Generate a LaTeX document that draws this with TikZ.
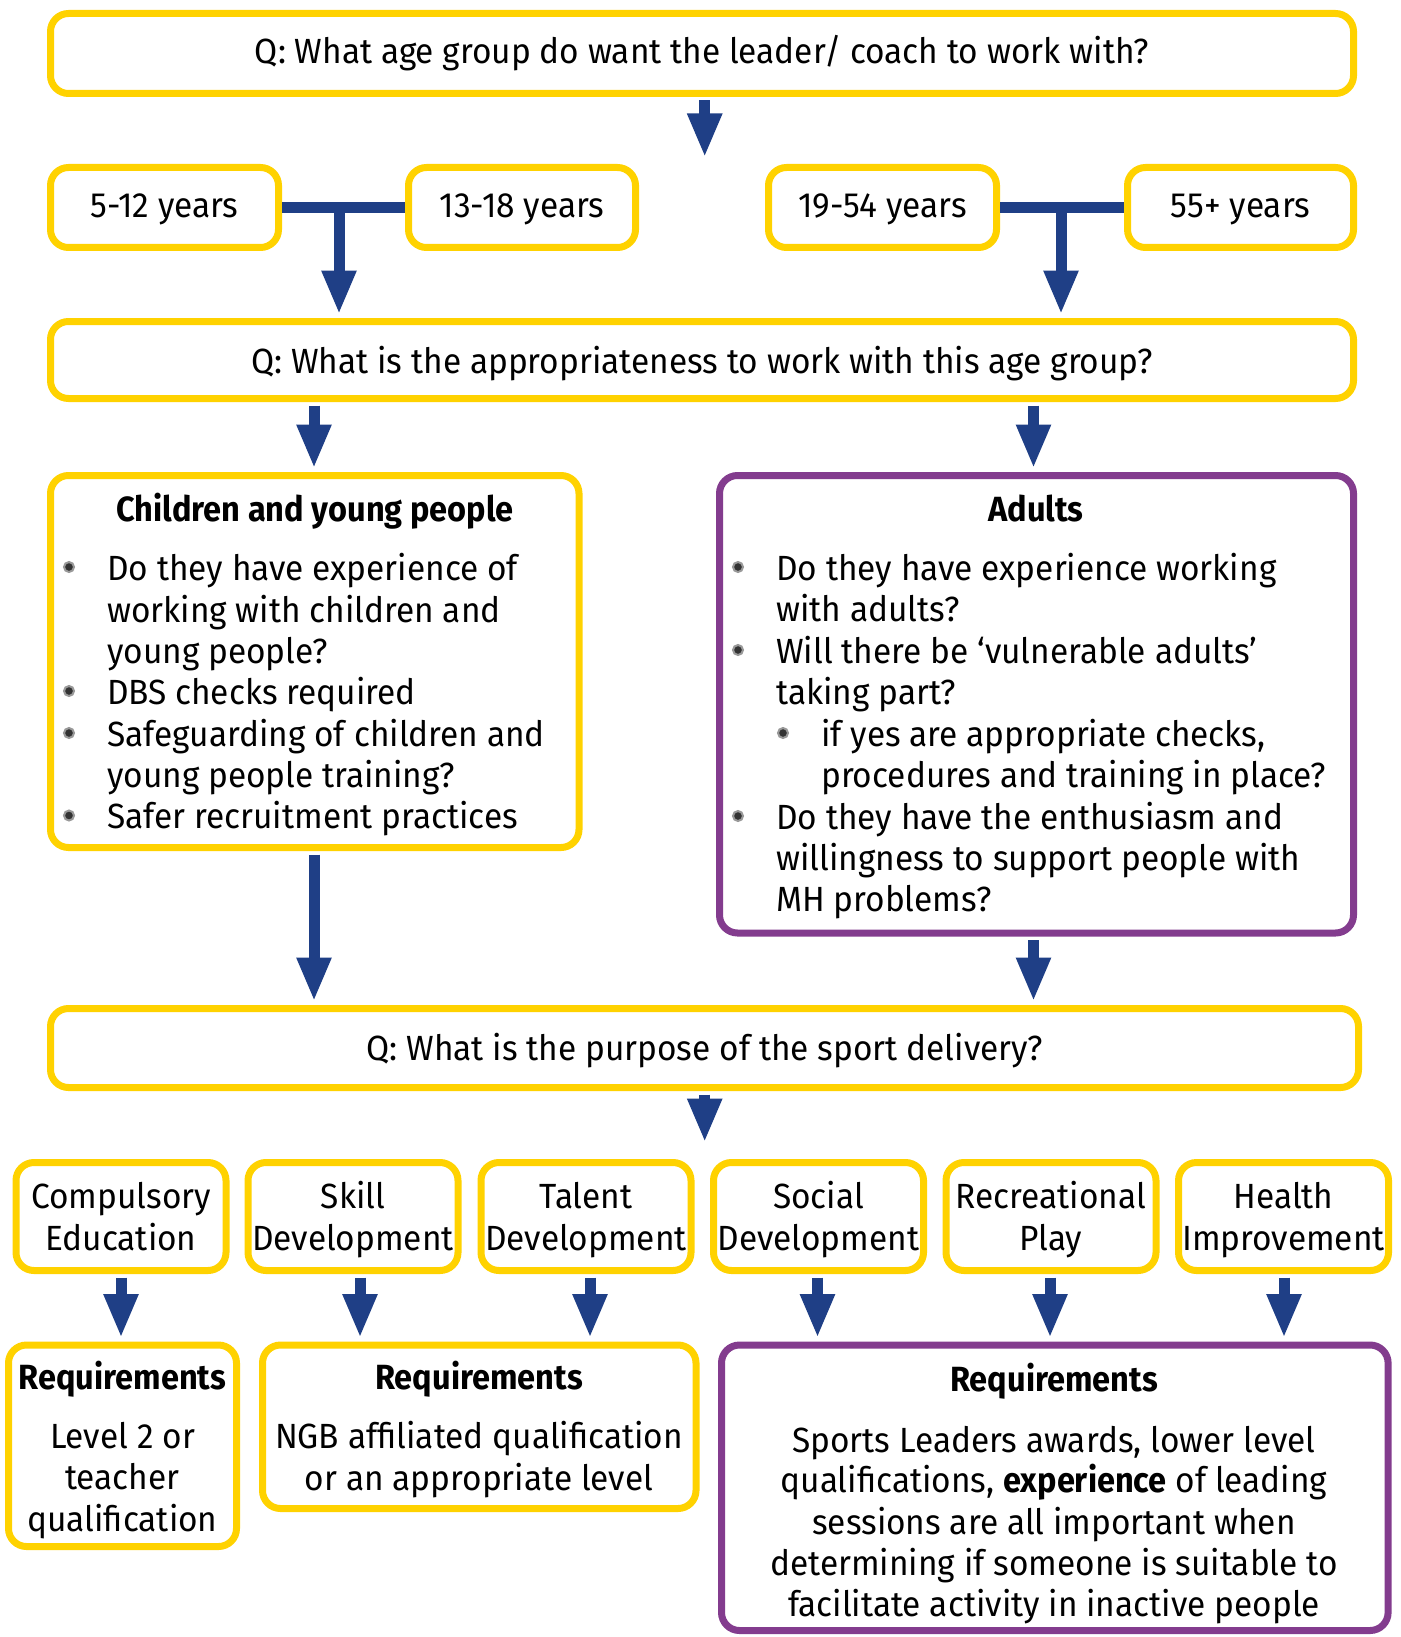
\documentclass[tikz,border=0pt]{standalone}
\usepackage{fontspec}
\setmainfont[UprightFeatures={FakeStretch=0.955}, BoldFeatures={FakeStretch=0.93}]{Fira Sans}
\usetikzlibrary{arrows.meta}
\definecolor{yel}{HTML}{FFD200}
\definecolor{pur}{HTML}{833C8E}
\definecolor{blu}{HTML}{1F3F86}
\tikzset{
  box/.style={draw=yel, line width=7pt, rounded corners=18pt, fill=white, inner sep=0pt},
  pbox/.style={box, draw=pur},
  txt/.style={font=\fontsize{35}{41}\selectfont, inner sep=0pt, anchor=base},
  ltxt/.style={txt, anchor=base west},
  btxt/.style={txt, font=\fontsize{35}{41}\selectfont\bfseries},
  bul/.style={circle, draw=black!40, fill=black!80, line width=2pt, minimum size=10pt, inner sep=0pt},
  arr/.style={draw=blu, line width=11pt, -{Triangle[width=32pt,length=44pt]}, shorten >=3.5pt, shorten <=3.5pt},
  bar/.style={draw=blu, line width=11pt}
}
\begin{document}
\begin{tikzpicture}[x=1pt,y=-1pt]
\useasboundingbox (0,0) rectangle (1400,1637);
% boxes
\node[box, minimum width=1303pt, minimum height=80pt] (top) at (702,53.5) {};
\node[box, minimum width=228pt, minimum height=80pt] (a1) at (164.5,207.5) {};
\node[box, minimum width=227pt, minimum height=80pt] (a2) at (522,207.5) {};
\node[box, minimum width=228pt, minimum height=80pt] (a3) at (882.5,207.5) {};
\node[box, minimum width=226pt, minimum height=80pt] (a4) at (1240.5,207.5) {};
\node[box, minimum width=1303pt, minimum height=77pt] (q2) at (702,360) {};
\node[box, minimum width=528.5pt, minimum height=372pt] (ch) at (314.75,661.5) {};
\node[pbox, minimum width=634pt, minimum height=457.5pt] (ad) at (1036.5,704.25) {};
\node[box, minimum width=1308pt, minimum height=79pt] (pu) at (704.5,1048) {};
\node[box, minimum width=210pt, minimum height=108pt] (p1) at (121,1216.5) {};
\node[box, minimum width=210pt, minimum height=108pt] (p2) at (353,1216.5) {};
\node[box, minimum width=210pt, minimum height=108pt] (p3) at (586,1216.5) {};
\node[box, minimum width=210pt, minimum height=108pt] (p4) at (818.5,1216.5) {};
\node[box, minimum width=210pt, minimum height=108pt] (p5) at (1051,1216.5) {};
\node[box, minimum width=210pt, minimum height=108pt] (p6) at (1283.5,1216.5) {};
\node[box, minimum width=228pt, minimum height=201.5pt] (r1) at (122.5,1445.75) {};
\node[box, minimum width=433.5pt, minimum height=163.5pt] (r2) at (479.25,1426.75) {};
\node[pbox, minimum width=666.6pt, minimum height=285.5pt] (r3) at (1054.8,1487.75) {};
% connectors
\coordinate (t1) at (704.7,161);
\draw[arr] (top.south -| t1) -- (t1);
\coordinate (j1) at (339,207.5);
\coordinate (j2) at (1061,207.5);
\draw[bar] (a1.east) -- (a2.west);
\draw[bar] (a3.east) -- (a4.west);
\draw[arr, shorten <=0pt] (j1) -- (j1 |- q2.north);
\draw[arr, shorten <=0pt] (j2) -- (j2 |- q2.north);
\coordinate (k1) at (314,0);
\coordinate (k2) at (1033.5,0);
\draw[arr] (q2.south -| k1) -- (ch.north -| k1);
\draw[arr] (q2.south -| k2) -- (ad.north -| k2);
\draw[arr] (ch.south -| k1) -- (pu.north -| k1);
\draw[arr] (ad.south -| k2) -- (pu.north -| k2);
\coordinate (t2) at (704.7,1146);
\draw[arr] (pu.south -| t2) -- (t2);
\coordinate (m1) at (121,0);
\coordinate (m2) at (360,0);
\coordinate (m3) at (590,0);
\coordinate (m4) at (817.5,0);
\coordinate (m5) at (1050,0);
\coordinate (m6) at (1284,0);
\draw[arr] (p1.south -| m1) -- (r1.north -| m1);
\draw[arr] (p2.south -| m2) -- (r2.north -| m2);
\draw[arr] (p3.south -| m3) -- (r2.north -| m3);
\draw[arr] (p4.south -| m4) -- (r3.north -| m4);
\draw[arr] (p5.south -| m5) -- (r3.north -| m5);
\draw[arr] (p6.south -| m6) -- (r3.north -| m6);
% texts
\node[txt] (tt) at (702,64) {Q: What age group do want the leader/ coach to work with?};
\node[txt] (at1) at (164.5,218) {5-12 years};
\node[txt] (at2) at (522,218) {13-18 years};
\node[txt] (at3) at (882.5,218) {19-54 years};
\node[txt] (at4) at (1240.5,218) {55+ years};
\node[txt] (qt2) at (702,373) {Q: What is the appropriateness to work with this age group?};
% children
\node[btxt] (cht) at (315,521.5) {Children and young people};
\node[bul] (cb1) at (69,567) {};
\node[bul] (cb2) at (69,691) {};
\node[bul] (cb3) at (69,733) {};
\node[bul] (cb4) at (69,815.5) {};
\node[ltxt] (c1) at (107,580) {Do they have experience of};
\node[ltxt] (c2) at (107,622) {working with children and};
\node[ltxt] (c3) at (107,663.5) {young people?};
\node[ltxt] (c4) at (107,704) {DBS checks required};
\node[ltxt] (c5) at (107,746) {Safeguarding of children and};
\node[ltxt] (c6) at (107,787) {young people training?};
\node[ltxt] (c7) at (107,828.5) {Safer recruitment practices};
% adults
\node[btxt] (adt) at (1036,521.5) {Adults};
\node[bul] (ab1) at (738,567) {};
\node[bul] (ab2) at (738,650) {};
\node[bul] (ab3) at (783,733) {};
\node[bul] (ab4) at (738,816) {};
\node[ltxt] (d1) at (776,580) {Do they have experience working};
\node[ltxt] (d2) at (776,621.5) {with adults?};
\node[ltxt] (d3) at (776,663) {Will there be ‘vulnerable adults’};
\node[ltxt] (d4) at (776,704) {taking part?};
\node[ltxt] (d5) at (821,746) {if yes are appropriate checks,};
\node[ltxt] (d6) at (821,787) {procedures and training in place?};
\node[ltxt] (d7) at (776,829) {Do they have the enthusiasm and};
\node[ltxt] (d8) at (776,870) {willingness to support people with};
\node[ltxt] (d9) at (776,911) {MH problems?};
% purpose
\node[txt] (put) at (704.5,1060) {Q: What is the purpose of the sport delivery?};
\node[txt] (p1a) at (121,1208.5) {Compulsory};
\node[txt] (p1b) at (121,1250) {Education};
\node[txt] (p2a) at (353,1208.5) {Skill};
\node[txt] (p2b) at (353,1250) {Development};
\node[txt] (p3a) at (586,1208.5) {Talent};
\node[txt] (p3b) at (586,1250) {Development};
\node[txt] (p4a) at (818.5,1208.5) {Social};
\node[txt] (p4b) at (818.5,1250) {Development};
\node[txt] (p5a) at (1051,1208.5) {Recreational};
\node[txt] (p5b) at (1051,1250) {Play};
\node[txt] (p6a) at (1283.5,1208.5) {Health};
\node[txt] (p6b) at (1283.5,1250) {Improvement};
% requirements
\node[btxt] (r1t) at (122.5,1389) {Requirements};
\node[txt] (r1a) at (122.5,1448.6) {Level 2 or};
\node[txt] (r1b) at (122.5,1489) {teacher};
\node[txt] (r1c) at (122.5,1531) {qualification};
\node[btxt] (r2t) at (479,1389) {Requirements};
\node[txt] (r2a) at (479,1448.6) {NGB affiliated qualification};
\node[txt] (r2b) at (479,1490) {or an appropriate level};
\node[btxt] (r3t) at (1054,1391) {Requirements};
\node[txt] (r3a) at (1054,1452) {Sports Leaders awards, lower level};
\node[txt] (r3b) at (1054,1492.5) {qualifications, \textbf{experience} of leading};
\node[txt] (r3c) at (1054,1534) {sessions are all important when};
\node[txt] (r3d) at (1054,1575) {determining if someone is suitable to};
\node[txt] (r3e) at (1054,1616.6) {facilitate activity in inactive people};
\end{tikzpicture}
\end{document}
